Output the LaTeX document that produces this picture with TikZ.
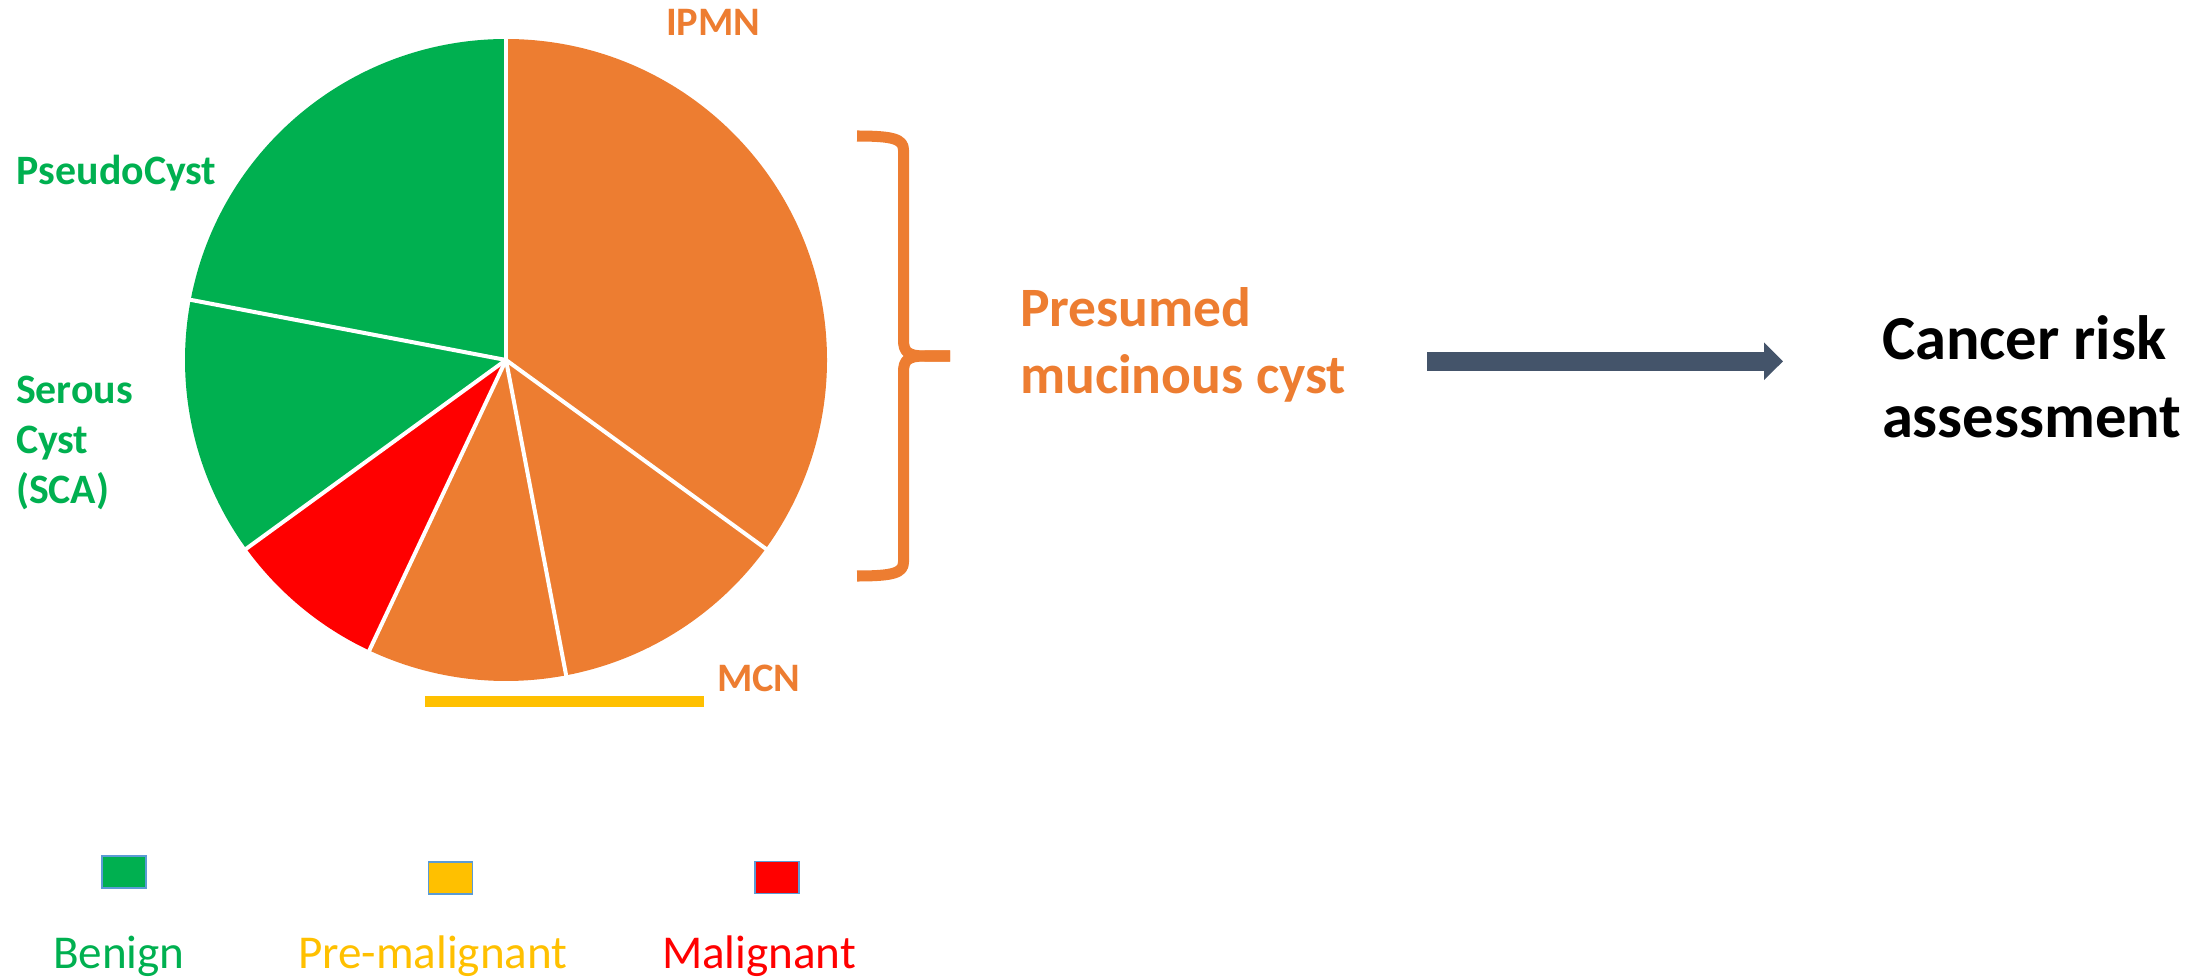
\documentclass[tikz,border=0pt]{standalone}
\usepackage{fontspec}
\setmainfont{Carlito}
\usetikzlibrary{arrows.meta}
\definecolor{cOrange}{HTML}{ED7D31}
\definecolor{cGreen}{HTML}{00B050}
\definecolor{cRed}{HTML}{FF0000}
\definecolor{cYellow}{HTML}{FFC000}
\definecolor{cArrow}{HTML}{44546A}
\definecolor{cEdge}{HTML}{5B9BD5}
\begin{document}
\begin{tikzpicture}[x=0.01cm,y=0.01cm,
  pielbl/.style={inner sep=0pt, outer sep=0pt, anchor=base west, align=left,
    font=\bfseries\fontsize{11.5}{14.2}\selectfont},
  greenlbl/.style={pielbl, text=cGreen, font=\bfseries\fontsize{11.9}{14.2}\selectfont},
  leglbl/.style={inner sep=0pt, outer sep=0pt, anchor=base west,
    font=\fontsize{13.4}{16}\selectfont},
  legsq/.style={draw=cEdge, line width=0.3pt, minimum width=0.44cm, minimum height=0.32cm, inner sep=0pt},
  sep/.style={white, line width=0.04cm},
  bracestyle/.style={cOrange, line width=0.11cm, line cap=butt, line join=round},
  bigarrow/.style={cArrow, line width=0.187cm, -{Triangle[length=0.19cm,width=0.366cm]}}
]
\useasboundingbox (0,0) rectangle (2200,978);

% pie
\coordinate (c) at (506,618);
\foreach \a/\b/\col in {90/-36/cOrange, -36/-79.2/cOrange, -79.2/-115.2/cOrange,
                        -115.2/-144/cRed, -144/-190.8/cGreen, -190.8/-270/cGreen}
  \fill[\col] (c) -- ++(\a:321) arc[start angle=\a, end angle=\b, radius=321] -- cycle;
\foreach \a in {90,-36,-79.2,-115.2,-144,-190.8}
  \draw[sep] (c) -- ++(\a:323);

% pie labels (base anchor = baseline of last line)
\node[pielbl, text=cOrange] (ipmn) at (666,942) {IPMN};
\node[greenlbl] (pseudo) at (17,793) {PseudoCyst};
\node[greenlbl] (serous) at (16,475) {Serous\\Cyst\\(SCA)};
\node[pielbl, text=cOrange] (mcn) at (717,287) {MCN};
\fill[cYellow] (425,271) rectangle (704,282);

% brace
\coordinate (brTop) at (857,842);
\coordinate (brTip) at (950,622);
\coordinate (brBot) at (857,402);
\draw[bracestyle] (brTop) .. controls (893,842) and (903.5,839) .. (903.5,828)
  -- (903.5,638) .. controls (903.5,626) and (908,622) .. (925,622) -- (brTip);
\draw[bracestyle] (brTip) -- (925,622) .. controls (908,622) and (903.5,618) .. (903.5,606)
  -- (903.5,416) .. controls (903.5,405) and (893,402) .. (brBot);

% right texts
\node[inner sep=0pt, outer sep=0pt, anchor=base west, align=left, text=cOrange,
  font=\bfseries\fontsize{15.8}{18.8}\selectfont] (pmc) at (1020,585) {Presumed\\mucinous cyst};
\node[inner sep=0pt, outer sep=0pt, anchor=base west, align=left, text=black,
  font=\bfseries\fontsize{17.8}{21.9}\selectfont] (cra) at (1882,541) {Cancer risk\\assessment};

% arrow
\coordinate (aS) at (1427,616.7);
\coordinate (aE) at (1783,616.7);
\draw[bigarrow] (aS) -- (aE);

% legend
\node[legsq, fill=cGreen] (sqB) at (124,106) {};
\node[legsq, fill=cYellow] (sqP) at (450.5,100) {};
\node[legsq, fill=cRed] (sqM) at (777,100.5) {};
\node[leglbl, text=cGreen] (lB) at (53,10) {Benign};
\node[leglbl, text=cYellow] (lP) at (298,10) {Pre-malignant};
\node[leglbl, text=cRed] (lM) at (662,10) {Malignant};
\end{tikzpicture}
\end{document}
